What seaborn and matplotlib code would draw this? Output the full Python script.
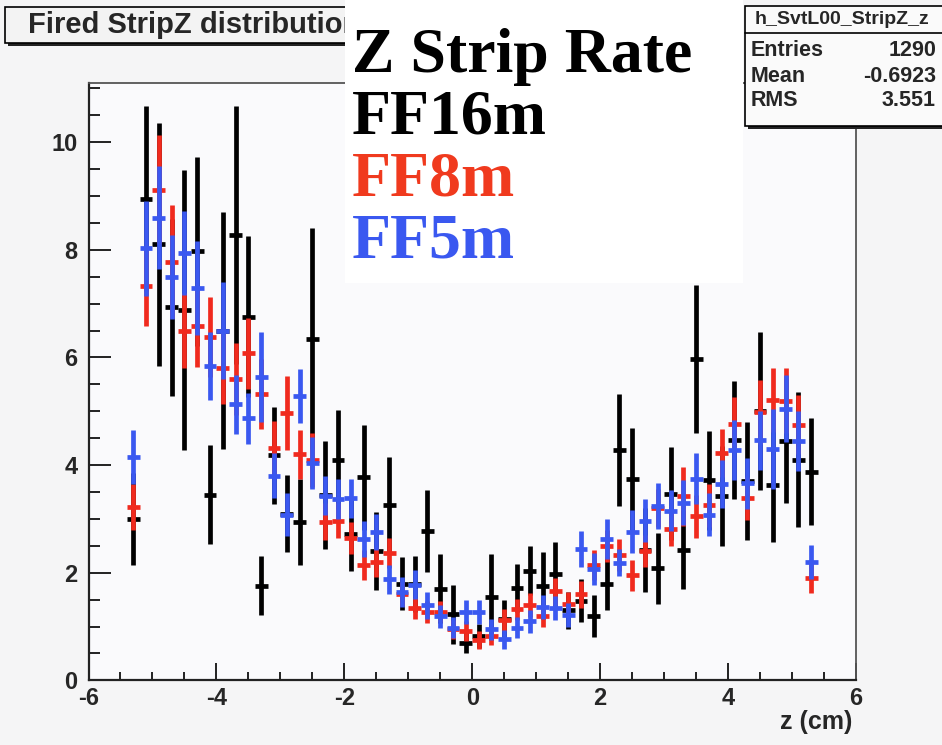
import numpy as np
import pandas as pd
import matplotlib
matplotlib.use("Agg")
import matplotlib.pyplot as plt
import seaborn as sns
from matplotlib.patches import Rectangle
from matplotlib.ticker import MultipleLocator
from matplotlib import font_manager

# bin centres (cm)
z_cm = [-5.3, -5.1, -4.9, -4.7, -4.5, -4.3, -4.1, -3.9, -3.7, -3.5,
        -3.3, -3.1, -2.9, -2.7, -2.5, -2.3, -2.1, -1.9, -1.7, -1.5,
        -1.3, -1.1, -0.9, -0.7, -0.5, -0.3, -0.1, 0.1, 0.3, 0.5,
        0.7, 0.9, 1.1, 1.3, 1.5, 1.7, 1.9, 2.1, 2.3, 2.5,
        2.7, 2.9, 3.1, 3.3, 3.5, 3.7, 3.9, 4.1, 4.3, 4.5,
        4.7, 4.9, 5.1, 5.3]

ff16m = [3.00, 8.95, 8.10, 6.93, 6.88, 7.97, 3.45, 6.50, 8.27, 6.76,
         1.76, 4.18, 3.10, 2.94, 6.35, 3.45, 4.10, 2.72, 3.77, 2.40,
         3.25, 1.80, 1.80, 2.77, 1.70, 1.23, 0.70, 0.83, 1.55, 1.15,
         1.72, 2.04, 1.76, 1.98, 1.30, 1.48, 1.20, 1.80, 4.28, 3.74,
         2.42, 2.08, 3.47, 2.43, 5.97, 3.72, 3.42, 4.47, 3.70, 5.00,
         3.63, 4.45, 4.10, 3.88]
ff16m_err = [0.85, 1.72, 2.25, 1.65, 2.60, 1.75, 0.92, 2.20, 2.40, 1.50,
             0.55, 0.90, 0.72, 0.80, 2.05, 1.00, 0.92, 0.68, 0.98, 0.72,
             0.90, 0.50, 0.52, 0.76, 0.64, 0.55, 0.20, 0.22, 0.80, 0.35,
             0.45, 0.45, 0.62, 0.60, 0.35, 0.40, 0.39, 0.50, 1.04, 0.95,
             0.78, 0.66, 0.87, 0.73, 1.37, 0.92, 0.93, 1.10, 1.10, 1.47,
             1.05, 1.15, 1.25, 1.00]

ff8m = [3.22, 7.32, 9.12, 7.78, 6.50, 6.58, 6.38, 5.81, 5.60, 6.08,
        5.32, 4.32, 4.97, 4.20, 4.10, 2.95, 2.97, 2.64, 2.15, 2.20,
        2.36, 1.60, 1.34, 1.27, 1.28, 0.95, 0.92, 0.75, 0.82, 1.12,
        1.32, 1.40, 1.20, 1.66, 1.42, 1.60, 2.15, 2.50, 2.33, 1.95,
        2.40, 3.20, 2.82, 3.42, 3.05, 3.25, 4.22, 4.77, 3.38, 4.99,
        5.21, 5.20, 4.75, 1.90]
ff8m_err = [0.42, 0.73, 1.02, 1.05, 0.70, 0.75, 0.74, 0.67, 0.66, 0.66,
            0.65, 0.50, 0.68, 0.45, 0.50, 0.35, 0.33, 0.30, 0.28, 0.28,
            0.28, 0.22, 0.20, 0.20, 0.20, 0.18, 0.18, 0.17, 0.17, 0.20,
            0.20, 0.22, 0.20, 0.25, 0.22, 0.25, 0.28, 0.30, 0.30, 0.28,
            0.30, 0.35, 0.33, 0.55, 0.40, 0.40, 0.45, 0.50, 0.40, 0.60,
            0.60, 0.60, 0.55, 0.28]

ff5m = [4.15, 8.03, 8.60, 7.50, 7.95, 7.29, 5.84, 6.50, 5.13, 4.87,
        5.64, 3.80, 3.08, 5.28, 4.04, 3.43, 3.37, 3.38, 2.63, 2.76,
        1.88, 1.64, 1.78, 1.40, 1.19, 0.98, 1.27, 1.27, 0.95, 0.76,
        0.98, 1.10, 1.36, 1.35, 1.22, 2.44, 2.07, 2.63, 2.19, 2.76,
        2.97, 3.24, 3.15, 3.30, 3.75, 3.08, 3.65, 4.28, 3.66, 4.46,
        4.30, 5.05, 4.45, 2.20]
ff5m_err = [0.50, 0.88, 0.95, 0.78, 0.78, 0.88, 0.63, 0.90, 0.55, 0.47,
            0.83, 0.42, 0.40, 0.50, 0.48, 0.36, 0.37, 0.37, 0.33, 0.33,
            0.27, 0.28, 0.27, 0.25, 0.22, 0.20, 0.22, 0.22, 0.20, 0.18,
            0.20, 0.21, 0.22, 0.22, 0.22, 0.33, 0.30, 0.37, 0.25, 0.40,
            0.40, 0.42, 0.38, 0.42, 0.47, 0.40, 0.45, 0.55, 0.48, 0.55,
            0.75, 0.62, 0.55, 0.32]

series = [("FF16m", ff16m, ff16m_err, "#000000"),
          ("FF8m", ff8m, ff8m_err, "#f02a1e"),
          ("FF5m", ff5m, ff5m_err, "#3a58f0")]

sns.set_style("ticks")
names = {f.name for f in font_manager.fontManager.ttflist}
sans = "Liberation Sans Narrow" if "Liberation Sans Narrow" in names else "Liberation Sans"
plt.rcParams["font.family"] = [sans, "DejaVu Sans"]
plt.rcParams["axes.unicode_minus"] = False

W, H = 942, 745
fig = plt.figure(figsize=(W / 100, H / 100), dpi=100, facecolor="#f5f5f6")


def fx(px):
    return px / W


def fy(py):
    return 1 - py / H


ax = fig.add_axes([fx(88.5), fy(680.4), fx(856) - fx(88.5), fy(83) - fy(680.4)])
ax.set_facecolor("#fafafc")

df = pd.concat([pd.DataFrame({"z": z_cm, "rate": v, "err": e, "run": name})
                for name, v, e, _ in series], ignore_index=True)

for i, (name, _, _, col) in enumerate(series):
    d = df[df["run"] == name]
    ax.errorbar(d["z"], d["rate"], yerr=d["err"], xerr=0.1, fmt="none",
                ecolor=col, elinewidth=3.4, capsize=0, zorder=2 + i)

ax.set_xlim(-6, 6)
ax.set_ylim(0, 11.1)
ax.set_xticks([-6, -4, -2, 0, 2, 4, 6])
ax.set_yticks([0, 2, 4, 6, 8, 10])
ax.xaxis.set_minor_locator(MultipleLocator(0.5))
ax.yaxis.set_minor_locator(MultipleLocator(0.5))
ax.tick_params(axis="x", which="major", direction="in", length=12, width=1.4,
               color="#222222", pad=5, labelsize=17)
ax.tick_params(axis="x", which="minor", direction="in", length=6, width=1.4, color="#222222")
ax.tick_params(axis="y", which="major", direction="in", length=16, width=1.4,
               color="#222222", pad=8, labelsize=17)
ax.tick_params(axis="y", which="minor", direction="in", length=8, width=1.4, color="#222222")
for lab in ax.get_xticklabels() + ax.get_yticklabels():
    lab.set_fontweight("bold")
ax.set_xlabel("")
ax.set_ylabel("")
for side in ["left", "bottom"]:
    ax.spines[side].set_color("#222222")
    ax.spines[side].set_linewidth(1.6)
for side in ["top", "right"]:
    ax.spines[side].set_color("#555555")
    ax.spines[side].set_linewidth(1.3)

fig.text(fx(852), fy(722), "z (cm)", ha="right", va="center", fontsize=18, fontweight="bold")


def box(x0, y0, x1, y1, face, edge="black", lw=1.2, z=5, shadow=True):
    if shadow:
        fig.add_artist(Rectangle((fx(x0 + 3), fy(y1 + 3)), fx(x1) - fx(x0), fy(y0) - fy(y1),
                                 transform=fig.transFigure, facecolor="#222222",
                                 edgecolor="none", zorder=z - 0.1))
    fig.add_artist(Rectangle((fx(x0), fy(y1)), fx(x1) - fx(x0), fy(y0) - fy(y1),
                             transform=fig.transFigure, facecolor=face,
                             edgecolor=edge, linewidth=lw, zorder=z))


# histogram title pave
box(5, 7, 420, 43, "#f3f3f3", z=4)
fig.text(fx(28), fy(25), "Fired StripZ distribution", ha="left", va="center",
         fontsize=21, fontweight="bold", zorder=4.5)

# stats box
box(745, 6, 950, 126, "#fafafa", z=4)
fig.add_artist(plt.Line2D([fx(745), fx(950)], [fy(33), fy(33)], transform=fig.transFigure,
                          color="black", lw=1.2, zorder=4.5))
fig.text(fx(842), fy(19), "h_SvtL00_StripZ_z", ha="center", va="center",
         fontsize=14, fontweight="bold", zorder=4.5)
for ypx, key, val in [(51, "Entries", "1290"), (76, "Mean", "-0.6923"), (101, "RMS", "3.551")]:
    fig.text(fx(751), fy(ypx), key, ha="left", va="center", fontsize=15.5,
             fontweight="bold", zorder=4.5)
    fig.text(fx(936), fy(ypx), val, ha="right", va="center", fontsize=15.5,
             fontweight="bold", zorder=4.5)

# pasted legend
box(345, -5, 743, 283, "white", edge="none", lw=0, z=6, shadow=False)
for ypx, txt, col in [(72, "Z Strip Rate", "black"), (133, "FF16m", "black"),
                      (195, "FF8m", "#f03a1e"), (258, "FF5m", "#3a58f0")]:
    fig.text(fx(352), fy(ypx), txt, ha="left", va="baseline", color=col,
             fontsize=46, fontweight="bold", family=["Liberation Serif", "DejaVu Serif"],
             zorder=7)

fig.savefig("out.png", dpi=100, facecolor=fig.get_facecolor())
